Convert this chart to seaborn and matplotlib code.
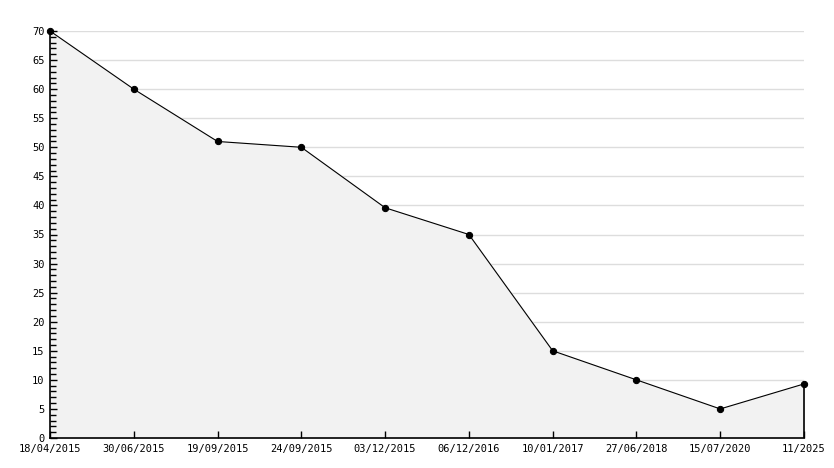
import matplotlib
matplotlib.use('Agg')
import matplotlib.pyplot as plt
import seaborn as sns
import numpy as np
from matplotlib.ticker import MultipleLocator

dates = ['18/04/2015', '30/06/2015', '19/09/2015', '24/09/2015', '03/12/2015',
         '06/12/2016', '10/01/2017', '27/06/2018', '15/07/2020', '11/2025']
values = [70, 60, 51, 50, 39.6, 35, 15, 10, 5, 9.3]
yticks = list(range(0, 75, 5))

sns.set_style('white', {'xtick.bottom': True, 'ytick.left': True,
                        'axes.edgecolor': 'black', 'text.color': 'black',
                        'xtick.color': 'black', 'ytick.color': 'black'})
plt.rcParams['font.family'] = ['DejaVu Sans Mono']

fig = plt.figure(figsize=(8.34, 4.68), dpi=100)
ax = fig.add_axes([50/834, 1-438/468, 754/834, 407/468])

xs = np.arange(len(dates))
# grid lines sit under the filled area
for yv in yticks[1:]:
    ax.axhline(yv, color='#dddddd', linewidth=1, zorder=0.5)
ax.fill_between(xs, values, 0, color='#f2f2f2', zorder=1)
sns.lineplot(x=xs, y=values, ax=ax, color='black', linewidth=0.8,
             marker='o', markersize=4.5, markeredgecolor='black', zorder=3, clip_on=False)
ax.vlines(xs[-1], 0, values[-1], color='black', linewidth=1.2, zorder=3, clip_on=False)

ax.set_xlim(0, len(dates) - 1)
ax.set_ylim(0, 70)
ax.set_xticks(xs)
ax.set_xticklabels(dates)
ax.set_yticks(yticks)
ax.yaxis.set_minor_locator(MultipleLocator(1))
ax.grid(False)
ax.set_axisbelow(False)

for s in ['top', 'right']:
    ax.spines[s].set_visible(False)
for s in ['left', 'bottom']:
    ax.spines[s].set_color('black')
    ax.spines[s].set_linewidth(1.2)
    ax.spines[s].set_zorder(4)

ax.tick_params(axis='y', which='major', direction='in', length=5, width=1,
               labelsize=7.5, pad=4, left=True, colors='black')
ax.tick_params(axis='y', which='minor', direction='in', length=4, width=1,
               left=True, colors='black')
ax.tick_params(axis='x', direction='in', length=5, width=1, labelsize=7.5,
               pad=4, bottom=True, colors='black')

fig.savefig('out.png', dpi=100)
